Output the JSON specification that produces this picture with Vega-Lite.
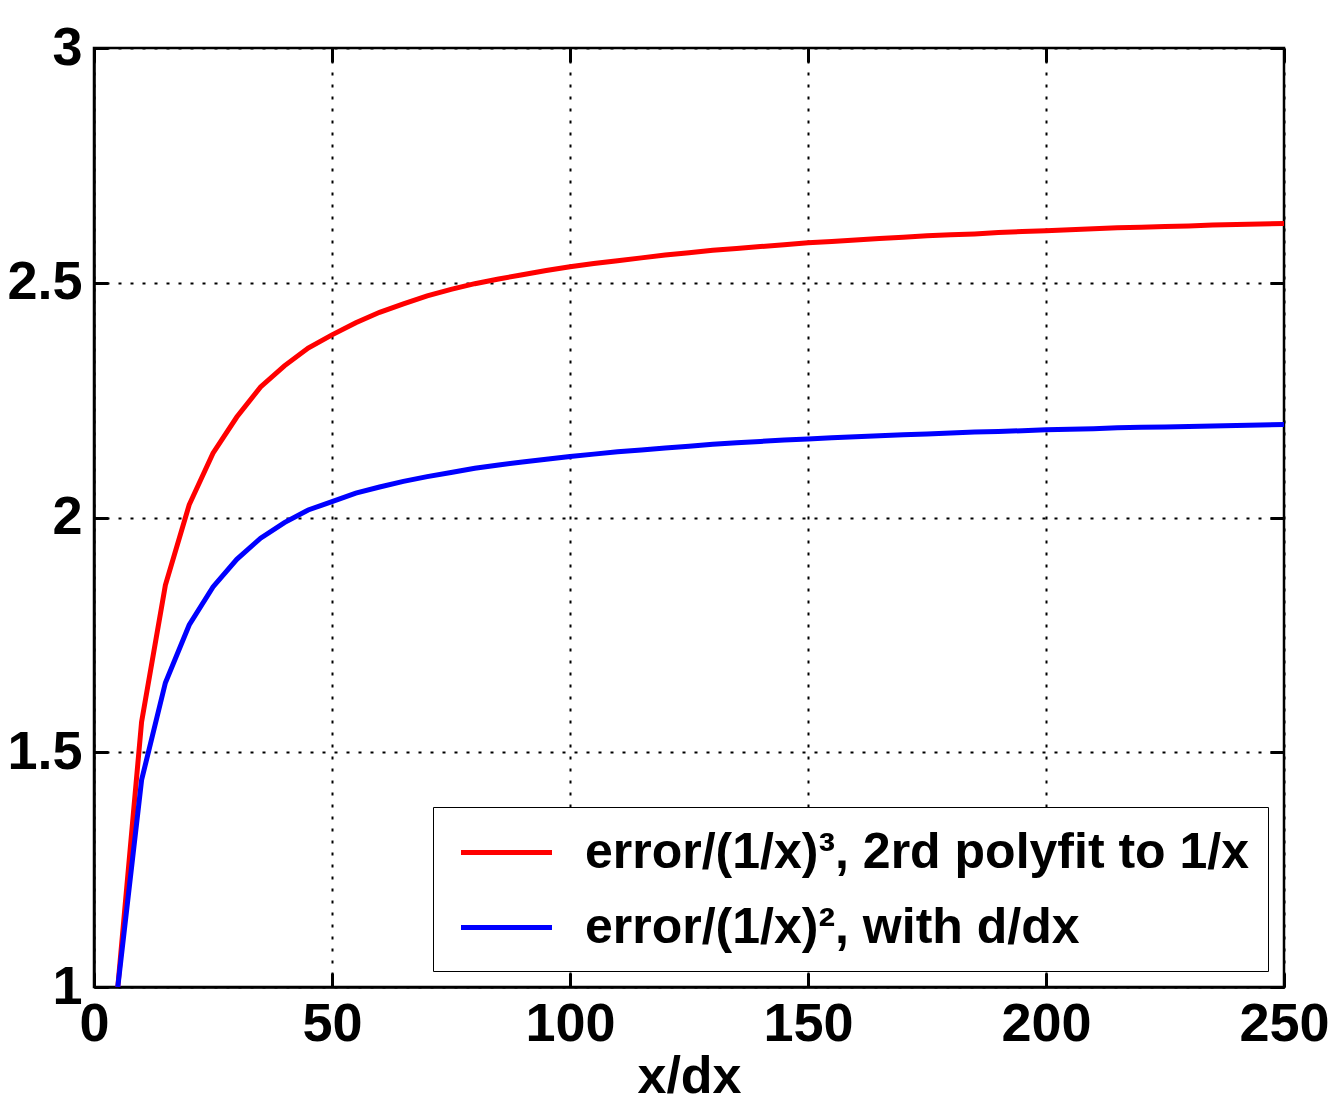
{
  "$schema": "https://vega.github.io/schema/vega-lite/v6.json",
  "autosize": "none",
  "width": 1190,
  "height": 939,
  "padding": {"left": 94, "top": 48, "right": 49, "bottom": 121},
  "background": "white",
  "config": {
    "view": {"stroke": "black", "strokeWidth": 2.5},
    "font": "Liberation Sans",
    "axis": {
      "labelFont": "Liberation Sans",
      "labelFontWeight": "bold",
      "labelFontSize": 54,
      "labelColor": "black",
      "titleFont": "Liberation Sans",
      "titleFontWeight": "bold",
      "titleFontSize": 52,
      "titleColor": "black",
      "domainColor": "black",
      "domainWidth": 2.5,
      "tickColor": "black",
      "tickWidth": 3,
      "tickSize": -14,
      "gridColor": "black",
      "gridWidth": 2,
      "gridDash": [3, 9],
      "gridOpacity": 1
    }
  },
  "data": {
    "values": [
      {"x": 5, "y": 1.0, "s": "r"}, {"x": 10, "y": 1.565, "s": "r"}, {"x": 15, "y": 1.856, "s": "r"}, {"x": 20, "y": 2.027, "s": "r"},
      {"x": 25, "y": 2.137, "s": "r"}, {"x": 30, "y": 2.214, "s": "r"}, {"x": 35, "y": 2.278, "s": "r"}, {"x": 40, "y": 2.323, "s": "r"},
      {"x": 45, "y": 2.361, "s": "r"}, {"x": 50, "y": 2.389, "s": "r"}, {"x": 55, "y": 2.415, "s": "r"}, {"x": 60, "y": 2.437, "s": "r"},
      {"x": 65, "y": 2.455, "s": "r"}, {"x": 70, "y": 2.472, "s": "r"}, {"x": 75, "y": 2.486, "s": "r"}, {"x": 80, "y": 2.498, "s": "r"},
      {"x": 85, "y": 2.508, "s": "r"}, {"x": 90, "y": 2.517, "s": "r"}, {"x": 95, "y": 2.526, "s": "r"}, {"x": 100, "y": 2.534, "s": "r"},
      {"x": 105, "y": 2.541, "s": "r"}, {"x": 110, "y": 2.547, "s": "r"}, {"x": 115, "y": 2.553, "s": "r"}, {"x": 120, "y": 2.559, "s": "r"},
      {"x": 125, "y": 2.564, "s": "r"}, {"x": 130, "y": 2.569, "s": "r"}, {"x": 135, "y": 2.573, "s": "r"}, {"x": 140, "y": 2.577, "s": "r"},
      {"x": 145, "y": 2.581, "s": "r"}, {"x": 150, "y": 2.585, "s": "r"}, {"x": 155, "y": 2.588, "s": "r"}, {"x": 160, "y": 2.591, "s": "r"},
      {"x": 165, "y": 2.594, "s": "r"}, {"x": 170, "y": 2.597, "s": "r"}, {"x": 175, "y": 2.600, "s": "r"}, {"x": 180, "y": 2.602, "s": "r"},
      {"x": 185, "y": 2.604, "s": "r"}, {"x": 190, "y": 2.607, "s": "r"}, {"x": 195, "y": 2.609, "s": "r"}, {"x": 200, "y": 2.611, "s": "r"},
      {"x": 205, "y": 2.613, "s": "r"}, {"x": 210, "y": 2.615, "s": "r"}, {"x": 215, "y": 2.617, "s": "r"}, {"x": 220, "y": 2.618, "s": "r"},
      {"x": 225, "y": 2.620, "s": "r"}, {"x": 230, "y": 2.621, "s": "r"}, {"x": 235, "y": 2.623, "s": "r"}, {"x": 240, "y": 2.624, "s": "r"},
      {"x": 245, "y": 2.625, "s": "r"}, {"x": 250, "y": 2.626, "s": "r"},
      {"x": 5, "y": 1.0, "s": "b"}, {"x": 10, "y": 1.441, "s": "b"}, {"x": 15, "y": 1.648, "s": "b"}, {"x": 20, "y": 1.771, "s": "b"},
      {"x": 25, "y": 1.852, "s": "b"}, {"x": 30, "y": 1.911, "s": "b"}, {"x": 35, "y": 1.956, "s": "b"}, {"x": 40, "y": 1.989, "s": "b"},
      {"x": 45, "y": 2.016, "s": "b"}, {"x": 50, "y": 2.034, "s": "b"}, {"x": 55, "y": 2.052, "s": "b"}, {"x": 60, "y": 2.065, "s": "b"},
      {"x": 65, "y": 2.077, "s": "b"}, {"x": 70, "y": 2.087, "s": "b"}, {"x": 75, "y": 2.096, "s": "b"}, {"x": 80, "y": 2.105, "s": "b"},
      {"x": 85, "y": 2.112, "s": "b"}, {"x": 90, "y": 2.118, "s": "b"}, {"x": 95, "y": 2.124, "s": "b"}, {"x": 100, "y": 2.130, "s": "b"},
      {"x": 105, "y": 2.135, "s": "b"}, {"x": 110, "y": 2.140, "s": "b"}, {"x": 115, "y": 2.144, "s": "b"}, {"x": 120, "y": 2.148, "s": "b"},
      {"x": 125, "y": 2.152, "s": "b"}, {"x": 130, "y": 2.156, "s": "b"}, {"x": 135, "y": 2.159, "s": "b"}, {"x": 140, "y": 2.162, "s": "b"},
      {"x": 145, "y": 2.165, "s": "b"}, {"x": 150, "y": 2.167, "s": "b"}, {"x": 155, "y": 2.170, "s": "b"}, {"x": 160, "y": 2.172, "s": "b"},
      {"x": 165, "y": 2.174, "s": "b"}, {"x": 170, "y": 2.176, "s": "b"}, {"x": 175, "y": 2.178, "s": "b"}, {"x": 180, "y": 2.180, "s": "b"},
      {"x": 185, "y": 2.182, "s": "b"}, {"x": 190, "y": 2.183, "s": "b"}, {"x": 195, "y": 2.185, "s": "b"}, {"x": 200, "y": 2.187, "s": "b"},
      {"x": 205, "y": 2.188, "s": "b"}, {"x": 210, "y": 2.189, "s": "b"}, {"x": 215, "y": 2.191, "s": "b"}, {"x": 220, "y": 2.192, "s": "b"},
      {"x": 225, "y": 2.193, "s": "b"}, {"x": 230, "y": 2.194, "s": "b"}, {"x": 235, "y": 2.195, "s": "b"}, {"x": 240, "y": 2.196, "s": "b"},
      {"x": 245, "y": 2.197, "s": "b"}, {"x": 250, "y": 2.198, "s": "b"}
    ]
  },
  "layer": [
    {
      "mark": {"type": "line", "strokeWidth": 5, "clip": true},
      "encoding": {
        "x": {
          "field": "x", "type": "quantitative",
          "scale": {"domain": [0, 250], "nice": false, "zero": false},
          "axis": {"values": [0, 50, 100, 150, 200, 250], "title": "x/dx", "titlePadding": 0, "labelPadding": 24, "labelFlush": false, "labelOverlap": false, "labelBound": false, "format": "d"}
        },
        "y": {
          "field": "y", "type": "quantitative",
          "scale": {"domain": [1, 3], "nice": false, "zero": false},
          "axis": {"values": [1, 1.5, 2, 2.5, 3], "title": null, "labelPadding": 26, "labelFlush": false, "labelOverlap": false, "labelBound": false, "format": "~g"}
        },
        "color": {
          "field": "s", "type": "nominal",
          "scale": {"domain": ["r", "b"], "range": ["#ff0000", "#0000ff"]},
          "legend": {
            "title": null,
            "orient": "none",
            "legendX": 339,
            "legendY": 759,
            "labelExpr": "datum.value == 'r' ? 'error/(1/x)³, 2rd polyfit to 1/x' : 'error/(1/x)², with d/dx'",
            "labelFont": "Liberation Sans",
            "labelFontWeight": "bold",
            "labelFontSize": 50,
            "labelColor": "black",
            "labelLimit": 1000,
            "symbolType": "M-1.82,0H1.82",
            "symbolSize": 2500,
            "symbolStrokeWidth": 5,
            "symbolOffset": 28,
            "labelOffset": 51,
            "padding": 18,
            "rowPadding": 22,
            "strokeColor": "black",
            "fillColor": "white"
          }
        }
      }
    },
    {
      "mark": {"type": "line", "strokeWidth": 0, "opacity": 0},
      "encoding": {
        "x": {
          "field": "x", "type": "quantitative",
          "axis": {"orient": "top", "values": [0, 50, 100, 150, 200, 250], "labels": false, "title": null, "grid": false, "domain": false}
        },
        "y": {
          "field": "y", "type": "quantitative",
          "axis": {"orient": "right", "values": [1, 1.5, 2, 2.5, 3], "labels": false, "title": null, "grid": false, "domain": false}
        }
      }
    }
  ],
  "resolve": {"axis": {"x": "independent", "y": "independent"}}
}
